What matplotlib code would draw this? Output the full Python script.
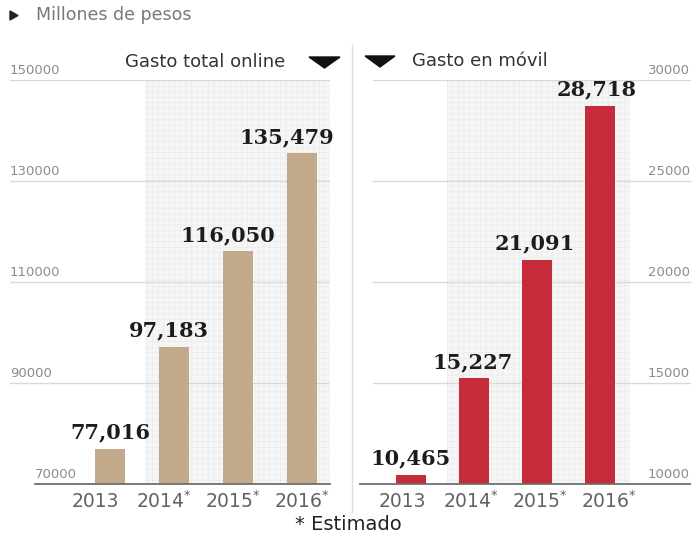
import matplotlib
matplotlib.use("Agg")
import matplotlib.pyplot as plt
from matplotlib.patches import Polygon, Rectangle
from matplotlib.lines import Line2D

# ---- data -------------------------------------------------------------
years = ["2013", "2014", "2015", "2016"]
estimated = [False, True, True, True]
online_total = [77016, 97183, 116050, 135479]
mobile_total = [10465, 15227, 21091, 28718]
online_ticks = [70000, 90000, 110000, 130000, 150000]
mobile_ticks = [10000, 15000, 20000, 25000, 30000]

title_online = "Gasto total online"
title_mobile = "Gasto en móvil"
unit_note = "Millones de pesos"
foot_note = "* Estimado"

# ---- style ------------------------------------------------------------
TAN = "#C4AA8C"
RED = "#C52B38"
GRID = "#d9d9d9"
BASE = "#6e6e6e"
TICK_TXT = "#8c8c8c"
YEAR_TXT = "#626262"
SHADE = "#f6f6f6"
plt.rcParams["hatch.linewidth"] = 0.4

W, H = 697, 537
fig = plt.figure(figsize=(W / 100, H / 100), dpi=100)
fig.patch.set_facecolor("white")


def px_box(x0, x1, ytop, ybot):
    return [x0 / W, 1 - ybot / H, (x1 - x0) / W, (ybot - ytop) / H]


def fx(x):
    return x / W


def fy(y):
    return 1 - y / H


def year_label(y, est):
    return y + (r"$^{*}$" if est else "")


def panel(rect, values, ticks, color, xlim, shade_x, label_side,
          label_start, label_step, value_step, base_from, grid_span):
    ax = fig.add_axes(rect)
    ax.set_xlim(*xlim)
    ax.set_ylim(ticks[0], ticks[-1])
    ax.axis("off")

    # light textured band behind the estimated years
    ax.add_patch(Rectangle((shade_x[0], ticks[0]), shade_x[1] - shade_x[0],
                           ticks[-1] - ticks[0], facecolor=SHADE,
                           edgecolor="#e9e9e9", lw=0, hatch="+++",
                           zorder=0))

    for t in ticks[1:]:
        ax.axhline(t, xmin=grid_span[0], xmax=grid_span[1], color=GRID,
                   lw=1.0, zorder=1)
    ax.axhline(ticks[0], xmin=base_from, xmax=grid_span[1], color=BASE,
               lw=1.3, zorder=4, clip_on=False)

    # tick values sit just above their gridline
    for t in ticks:
        if label_side == "left":
            xfrac = base_from if t == ticks[0] else grid_span[0]
            ha = "left"
        else:
            xfrac = 0.991
            ha = "right"
        ax.annotate(f"{t}", xy=(xfrac, t), xycoords=("axes fraction", "data"),
                    xytext=(0, 2), textcoords="offset points", ha=ha,
                    va="bottom", fontsize=9.5, color=TICK_TXT,
                    fontfamily="DejaVu Sans")

    xs = list(range(len(values)))
    ax.bar(xs, values, width=0.48, color=color, zorder=2)
    for x, v in zip(xs, values):
        ax.annotate(f"{v:,}", xy=(x * value_step, v), xytext=(0, 4.5),
                    textcoords="offset points", ha="center", va="bottom",
                    fontsize=15, fontweight="bold", fontfamily="DejaVu Serif",
                    color="#1c1c1c", zorder=5)

    for i, (y, est) in enumerate(zip(years, estimated)):
        ax.annotate(year_label(y, est),
                    xy=(label_start + i * label_step, ticks[0]),
                    xytext=(0, -12.5), textcoords="offset points",
                    ha="center", va="center", fontsize=13.5, color=YEAR_TXT,
                    fontfamily="DejaVu Sans", annotation_clip=False)
    return ax


# left panel: 64 px per category, first bar centred at x=110 px
panel(px_box(10, 330, 80, 484), online_total, online_ticks, TAN,
      xlim=(-100 / 64, 220 / 64), shade_x=(35 / 64, 220 / 64),
      label_side="left", label_start=-15 / 64, label_step=69 / 64,
      value_step=59 / 64, base_from=25 / 320, grid_span=(0.0, 1.0))

# right panel: 63 px per category, first bar centred at x=411 px
panel(px_box(360, 693, 80, 484), mobile_total, mobile_ticks, RED,
      xlim=(-51 / 63, 282 / 63), shade_x=(36 / 63, 219 / 63),
      label_side="right", label_start=-9 / 63, label_step=69 / 63,
      value_step=62 / 63, base_from=0.0, grid_span=(13 / 333, 0.991))

# divider between the two panels
fig.add_artist(Line2D([fx(352), fx(352)], [fy(45), fy(512)],
                      color="#dedede", lw=1.0))

# panel headings with their pointer triangles
fig.text(fx(125), fy(62), title_online, ha="left", va="center",
         fontsize=13, color="#333333", fontfamily="DejaVu Sans")
fig.add_artist(Polygon([[fx(309), fy(57)], [fx(340), fy(57)],
                        [fx(324.5), fy(68)]], closed=True,
                       transform=fig.transFigure, color="#111111"))
fig.text(fx(412), fy(61), title_mobile, ha="left", va="center",
         fontsize=13, color="#333333", fontfamily="DejaVu Sans")
fig.add_artist(Polygon([[fx(365), fy(56)], [fx(395), fy(56)],
                        [fx(380), fy(67)]], closed=True,
                       transform=fig.transFigure, color="#111111"))

# unit note
fig.add_artist(Polygon([[fx(10), fy(11)], [fx(10), fy(20)],
                        [fx(18), fy(15.5)]], closed=True,
                       transform=fig.transFigure, color="#222222"))
fig.text(fx(36), fy(15.5), unit_note, ha="left", va="center",
         fontsize=12.5, color="#787878", fontfamily="DejaVu Sans")

# footnote
fig.text(fx(348), fy(524), foot_note, ha="center", va="center",
         fontsize=14, color="#222222", fontfamily="DejaVu Sans")

fig.savefig("out.png", dpi=100, facecolor="white")
